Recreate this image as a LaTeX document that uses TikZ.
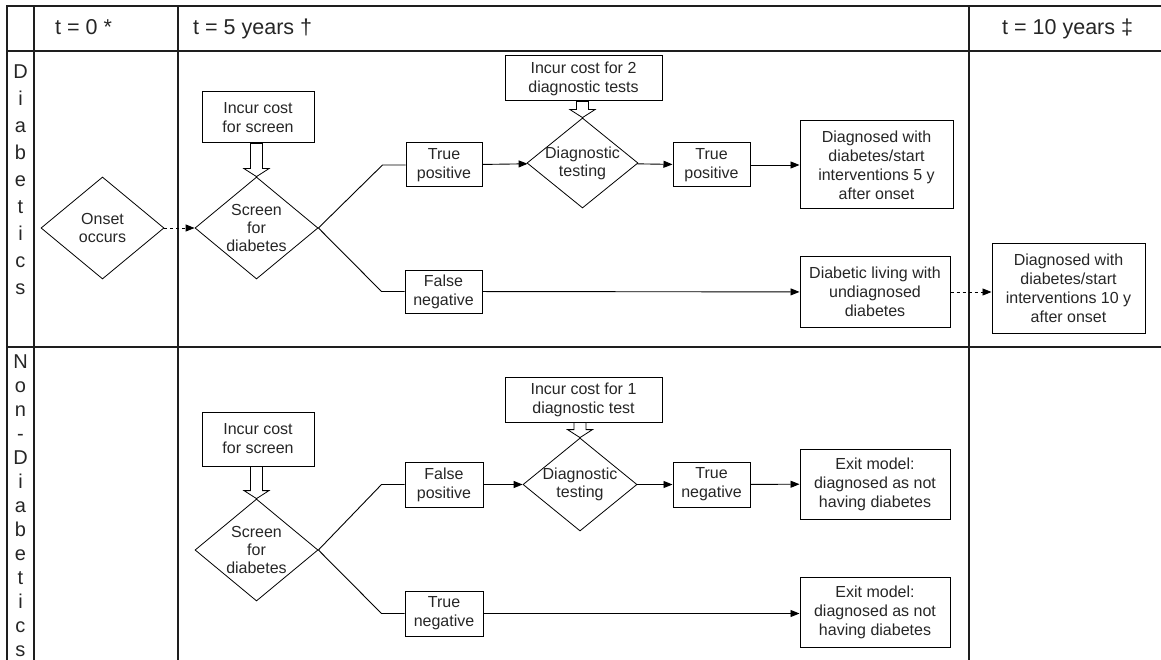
\documentclass[tikz,border=0pt]{standalone}
\usepackage{fontspec}
\setmainfont{Liberation Sans}
\usetikzlibrary{arrows.meta,calc,shapes.geometric}
\definecolor{FlowInk}{HTML}{262626}
\definecolor{FlowRule}{HTML}{1E1E1E}
\newcommand{\costarrow}[2]{%
  \path ($(#2.north)+(-6,-8)$) coordinate (ca) ($(#2.north)+(6,-8)$) coordinate (cb);
  \draw[line width=0.8pt,fill=white] (ca) -- ++(-6.5,0) -- (#2.north) -- ($(cb)+(6.5,0)$) -- (cb)
    -- (cb |- #1.south) -- (ca |- #1.south) -- cycle;}

\begin{document}
\begin{tikzpicture}[x=1pt,y=-1pt,>={Triangle[length=9pt,width=7pt]},
  rule/.style={FlowRule,line width=1.8pt},
  headtext/.style={font=\fontsize{21.5}{26}\selectfont,text=FlowInk,inner sep=0pt},
  stepbox/.style={draw,line width=1pt,align=center,inner sep=0pt,font=\fontsize{16}{19}\selectfont,text=FlowInk},
  choice/.style={diamond,draw,line width=0.8pt,inner sep=0pt,minimum width=123,minimum height=102},
  choicetext/.style={font=\fontsize{16}{18}\selectfont,align=center,text=FlowInk,inner sep=0pt},
  flow/.style={->,line width=0.9pt},
  branch/.style={line width=0.9pt}]
  \useasboundingbox (0,0) rectangle (1161,660);
  \draw[rule] (1161,6) -- (7,6) -- (7,660);
  \draw[rule] (7,51) -- (1161,51) (7,347) -- (1161,347);
  \foreach \x in {34,178,969} \draw[rule] (\x,6) -- (\x,660);
  \node[headtext,anchor=base west] (h0) at (55,35) {t = 0 *};
  \node[headtext,anchor=base west] (h5) at (193,35) {t = 5 years †};
  \node[headtext,anchor=base west] (h10) at (1002,35) {t = 10 years ‡};
  \node[headtext,align=center,font=\fontsize{20}{27}\selectfont,anchor=north] (rdia) at (20.5,65) {D\\i\\a\\b\\e\\t\\i\\c\\s};
  \node[headtext,align=center,font=\fontsize{20}{24}\selectfont,anchor=north] (rnon) at (20.5,355) {N\\o\\n\\-\\D\\i\\a\\b\\e\\t\\i\\c\\s};

  \node[choice,label={[choicetext]center:{Onset\\occurs}}] (onset) at (102.5,228) {};
  \node[choice,label={[choicetext]center:{Screen\\for\\diabetes}}] (dscreen) at (256.5,228) {};
  \node[stepbox,minimum width=112,minimum height=51] (dscost) at (258,117.5) {Incur cost\\for screen};
  \node[stepbox,minimum width=76,minimum height=44] (dtp) at (444,165) {True\\positive};
  \node[stepbox,minimum width=157,minimum height=45] (dtcost) at (583.5,78.5) {Incur cost for 2\\diagnostic tests};
  \node[choice,minimum width=111,minimum height=90,label={[choicetext]center:{Diagnostic\\testing}}] (ddiag) at (582.5,163) {};
  \node[stepbox,minimum width=77,minimum height=44] (dtp2) at (711.5,165) {True\\positive};
  \node[stepbox,minimum width=153,minimum height=88] (ddx5) at (876.5,165) {Diagnosed with\\diabetes/start\\interventions 5 y\\after onset};
  \node[stepbox,minimum width=77,minimum height=43] (dfn) at (443.5,291.5) {False\\negative};
  \node[stepbox,minimum width=150,minimum height=70] (dlive) at (875,292) {Diabetic living with\\undiagnosed\\diabetes};
  \node[stepbox,minimum width=153,minimum height=89] (ddx10) at (1068.5,288.5) {Diagnosed with\\diabetes/start\\interventions 10 y\\after onset};

  \node[stepbox,minimum width=112,minimum height=54] (nscost) at (258,439) {Incur cost\\for screen};
  \node[choice,label={[choicetext]center:{Screen\\for\\diabetes}}] (nscreen) at (256.5,550) {};
  \node[stepbox,minimum width=78,minimum height=45] (nfp) at (444,484.5) {False\\positive};
  \node[stepbox,minimum width=157,minimum height=45] (ntcost) at (583.5,399.5) {Incur cost for 1\\diagnostic test};
  \node[choice,minimum width=114,minimum height=93,label={[choicetext]center:{Diagnostic\\testing}}] (ndiag) at (580,484.5) {};
  \node[stepbox,minimum width=77,minimum height=45] (ntn) at (711.5,484.5) {True\\negative};
  \node[stepbox,minimum width=150,minimum height=70] (nexit) at (875,484) {Exit model:\\diagnosed as not\\having diabetes};
  \node[stepbox,minimum width=78,minimum height=45] (ntn2) at (444,613.5) {True\\negative};
  \node[stepbox,minimum width=150,minimum height=70] (nexit2) at (875,612) {Exit model:\\diagnosed as not\\having diabetes};

  \costarrow{dscost}{dscreen}
  \costarrow{dtcost}{ddiag}
  \costarrow{nscost}{nscreen}
  \costarrow{ntcost}{ndiag}

  \draw[flow,dashed,dash pattern=on 3pt off 3pt] (onset.east) -- (dscreen.west);
  \draw[branch] (dscreen.east) -- ($(dtp.west)+(-23,0)$) -- (dtp.west);
  \draw[branch] (dscreen.east) -- ($(dfn.west)+(-23,0)$) -- (dfn.west);
  \draw[flow] (dtp) -- (ddiag);
  \draw[flow] (ddiag) -- (dtp2);
  \draw[flow] (dtp2) -- (ddx5);
  \draw[flow] (dfn) -- (dlive);
  \draw[flow,dash pattern=on 3pt off 3pt] (dlive.east) -- (dlive.east -| ddx10.west);

  \draw[branch] (nscreen.east) -- ($(nfp.west)+(-23,0)$) -- (nfp.west);
  \draw[branch] (nscreen.east) -- ($(ntn2.west)+(-23,0)$) -- (ntn2.west);
  \draw[flow] (nfp) -- (ndiag);
  \draw[flow] (ndiag) -- (ntn);
  \draw[flow] (ntn) -- (nexit);
  \draw[flow] (ntn2.east) -- (ntn2.east -| nexit2.west);
\end{tikzpicture}
\end{document}
